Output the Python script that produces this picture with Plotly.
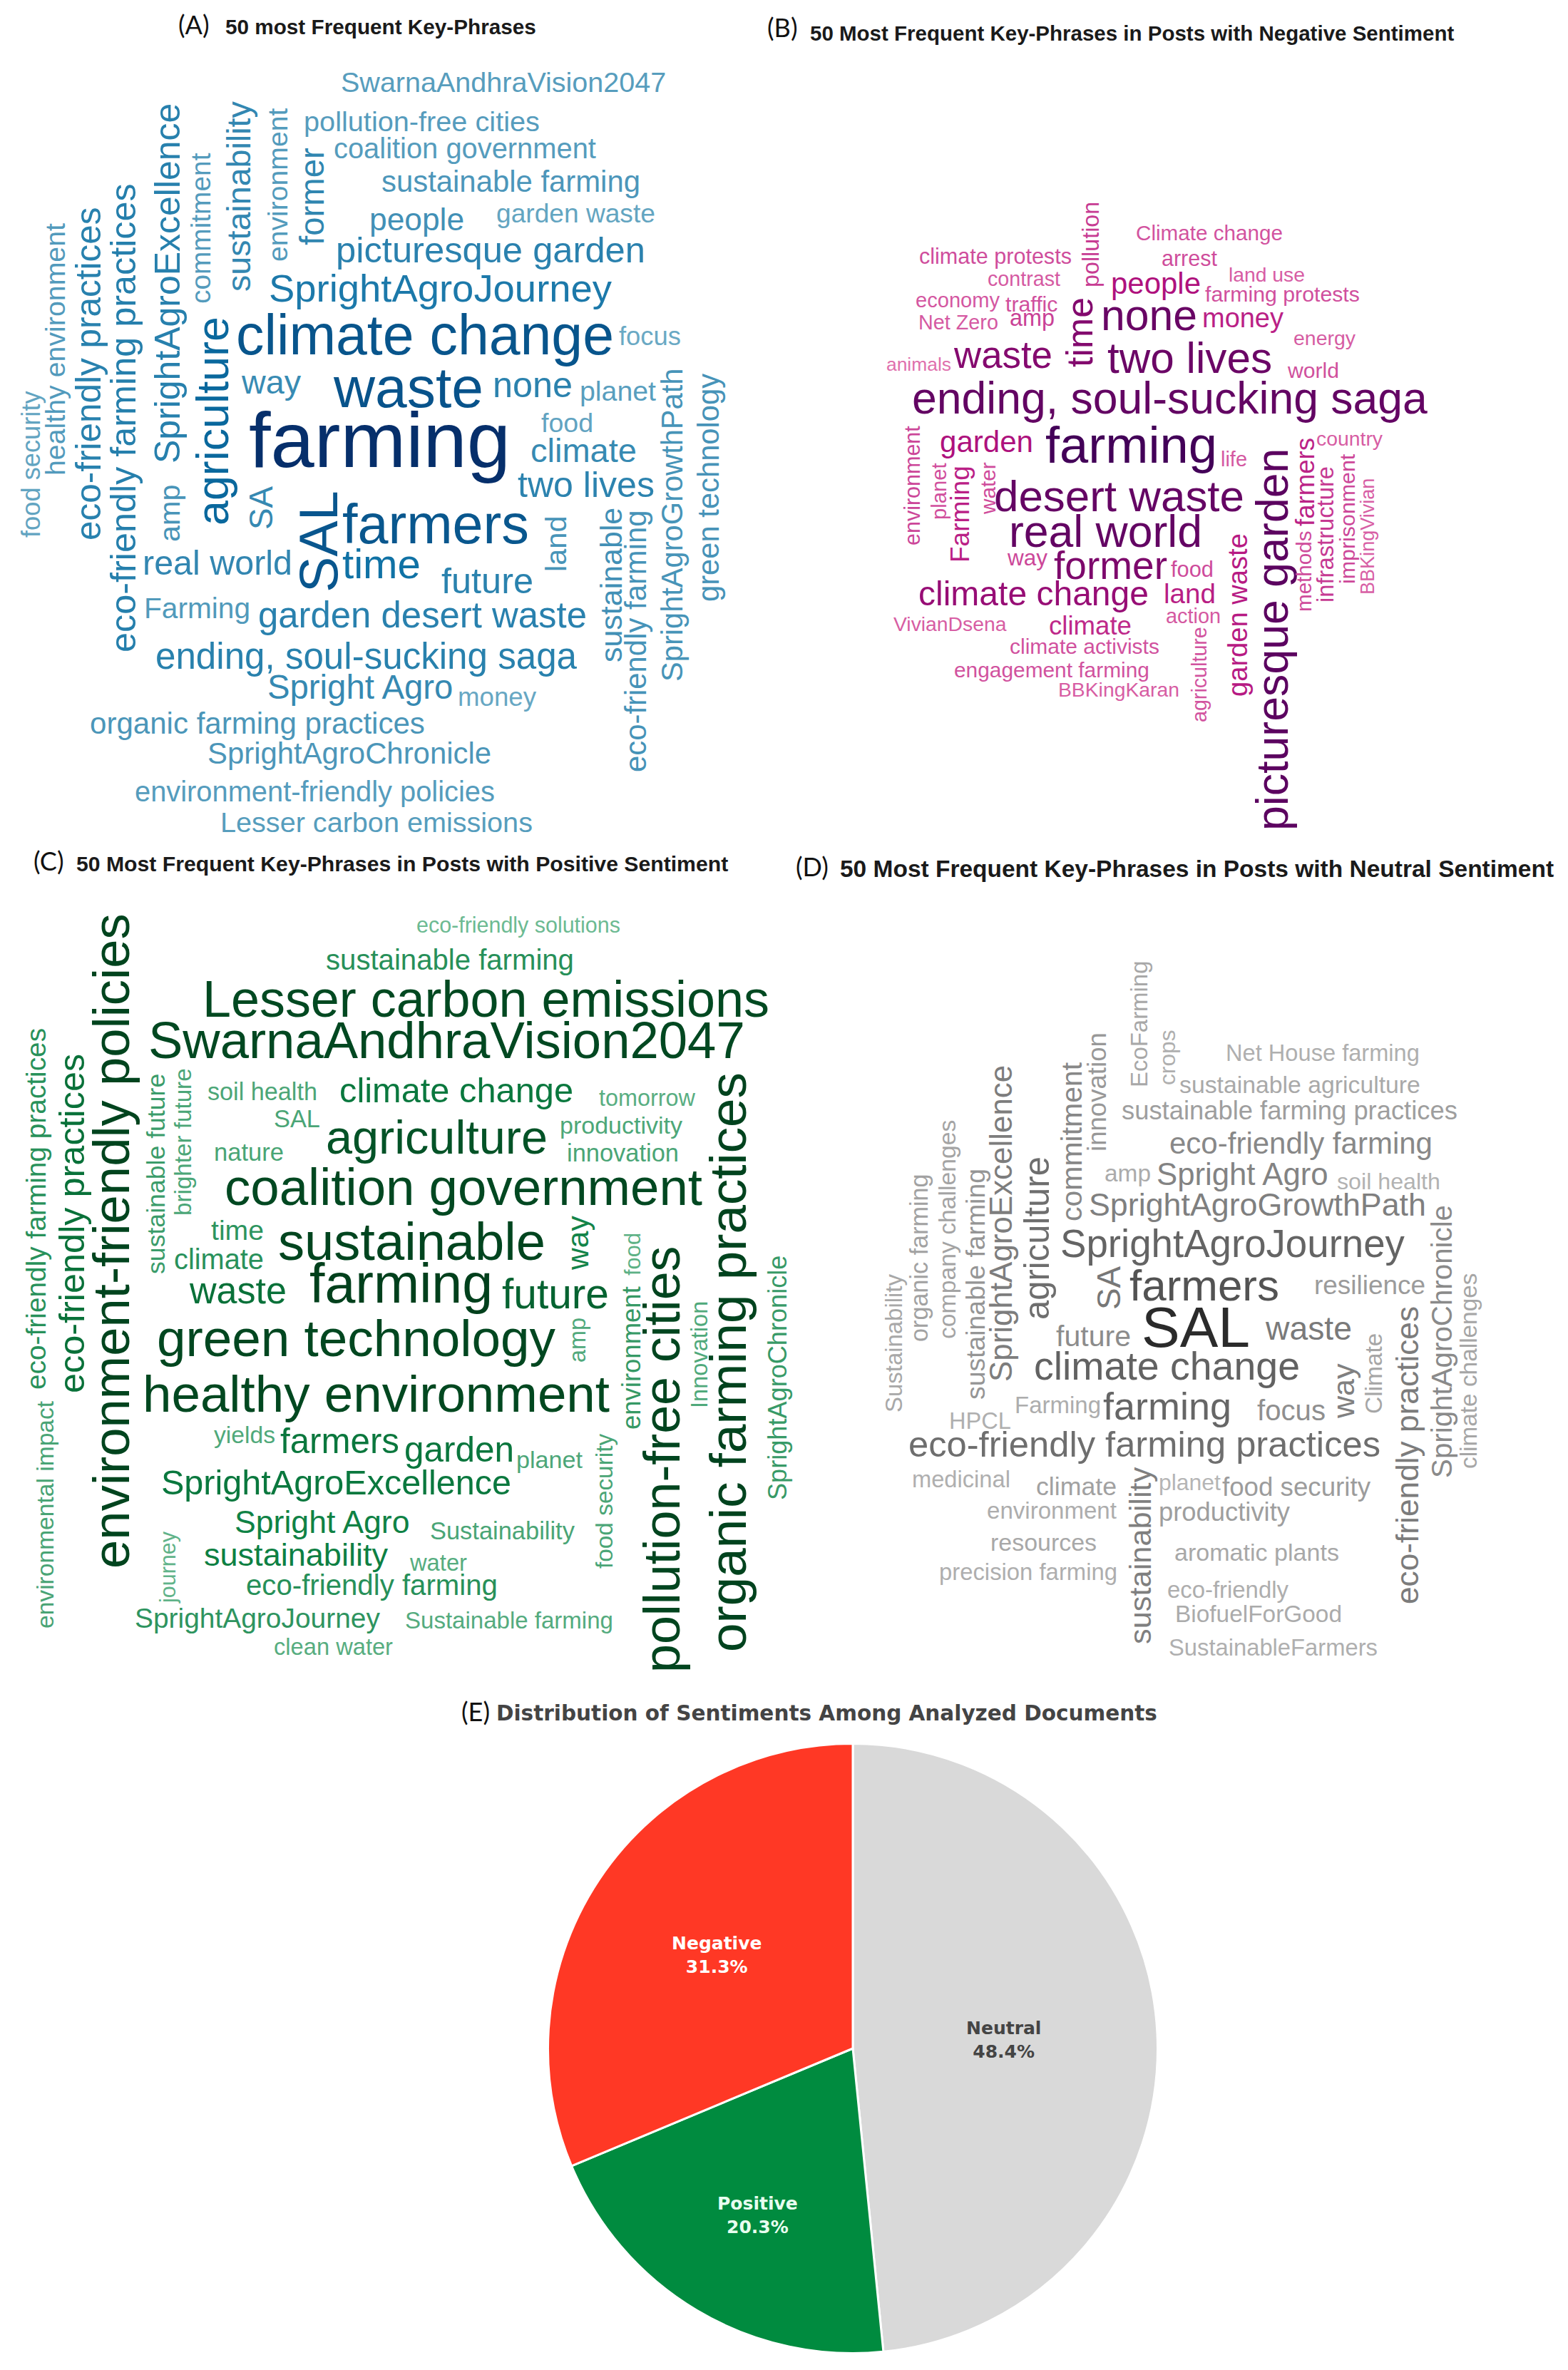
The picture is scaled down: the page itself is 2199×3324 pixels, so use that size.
import plotly.graph_objects as go

W = 2199
H = 3324

# ---- sentiment pie ----
sent_labels = ['Neutral', 'Positive', 'Negative']
sent_values = [48.4, 20.3, 31.3]
sent_colors = ['#d9d9d9', '#008b3f', '#ff3825']
sent_text_colors = ['#444444', '#e8fff0', '#ffffff']
sent_text_x = [1407, 1062, 1005]
sent_text_y = [2861, 3107, 2742]

# ---- panel A ----
flat_a = ['SwarnaAndhraVision2047', 'pollution-free cities', 'coalition government', 'sustainable farming',
          'people', 'garden waste', 'picturesque garden', 'SprightAgroJourney', 'climate change', 'focus',
          'way', 'waste', 'none', 'planet', 'food', 'farming', 'climate', 'two lives', 'farmers', 'real world',
          'time', 'future', 'Farming', 'garden desert waste', 'ending, soul-sucking saga', 'Spright Agro', 'money',
          'organic farming practices', 'SprightAgroChronicle', 'environment-friendly policies',
          'Lesser carbon emissions']
flat_a_x = [706, 591, 652, 716, 584, 807, 688, 618, 596, 911, 380, 572, 747, 866, 795, 532, 818, 822, 611, 305,
            535, 683, 276, 592, 514, 505, 697, 361, 490, 441, 528]
flat_a_y = [115, 170, 208, 254, 307, 299, 351, 405, 470, 471, 536, 543, 540, 548, 593, 616, 631, 680, 735, 789,
            791, 815, 853, 862, 921, 964, 977, 1015, 1056, 1110, 1153]
flat_a_len = [457, 331, 368, 363, 133, 223, 434, 481, 530, 87, 83, 210, 112, 107, 73, 367, 149, 192, 262, 210,
              110, 129, 149, 461, 591, 263, 110, 470, 398, 505, 438]
up_a = ['sustainability', 'environment', 'former', 'commitment', 'SprightAgroExcellence',
        'eco-friendly farming practices', 'eco-friendly practices', 'healthy environment', 'food security',
        'agriculture', 'amp', 'SA', 'SAL', 'land', 'sustainable', 'eco-friendly farming',
        'SprightAgroGrowthPath', 'green technology']
up_a_x = [335, 389, 438, 282, 235, 172, 124, 77, 43, 298, 238, 366, 447, 779, 857, 891, 943, 993]
up_a_y = [276, 260, 276, 320, 398, 586, 524, 490, 651, 591, 720, 712, 760, 763, 821, 899, 737, 684]
up_a_len = [275, 222, 141, 218, 521, 678, 482, 365, 212, 302, 83, 63, 147, 81, 224, 379, 453, 330]

# ---- panel B ----
flat_b = ['Climate change', 'climate protests', 'arrest', 'contrast', 'land use', 'people', 'farming protests',
          'economy', 'traffic', 'Net Zero', 'amp', 'none', 'money', 'energy', 'waste', 'animals', 'two lives',
          'world', 'ending, soul-sucking saga', 'garden', 'farming', 'country', 'life', 'desert waste',
          'real world', 'way', 'former', 'food', 'climate change', 'land', 'VivianDsena', 'action', 'climate',
          'climate activists', 'engagement farming', 'BBKingKaran']
flat_b_x = [1696, 1396, 1668, 1436, 1776, 1621, 1798, 1343, 1446, 1344, 1447, 1611, 1743, 1858, 1406, 1288, 1668,
            1841, 1640, 1383, 1586, 1893, 1730, 1569, 1550, 1440, 1557, 1672, 1449, 1668, 1332, 1673, 1529,
            1521, 1475, 1569]
flat_b_y = [327, 359, 362, 391, 385, 397, 412, 421, 426, 452, 446, 442, 446, 474, 497, 511, 502, 519, 558, 619,
            624, 615, 644, 695, 745, 782, 793, 799, 832, 832, 875, 864, 877, 907, 939, 967]
flat_b_len = [206, 214, 78, 102, 107, 126, 217, 118, 74, 112, 63, 135, 114, 87, 138, 91, 231, 72, 723, 131, 241,
              93, 37, 351, 271, 56, 159, 60, 323, 73, 159, 77, 116, 210, 274, 170]
up_b = ['pollution', 'time', 'environment', 'planet', 'Farming', 'water', 'picturesque garden', 'farmers',
        'methods', 'infrastructure', 'imprisonment', 'BBKingVivian', 'garden waste', 'agriculture']
up_b_x = [1530, 1514, 1279, 1317, 1346, 1385, 1784, 1831, 1829, 1858, 1889, 1918, 1735, 1682]
up_b_y = [343, 466, 681, 689, 721, 685, 897, 676, 802, 750, 728, 753, 863, 946]
up_b_len = [124, 101, 173, 82, 140, 75, 553, 128, 117, 197, 188, 169, 236, 138]

# ---- panel C ----
flat_c = ['eco-friendly solutions', 'sustainable farming', 'Lesser carbon emissions', 'SwarnaAndhraVision2047',
          'soil health', 'climate change', 'tomorrow', 'SAL', 'agriculture', 'productivity', 'innovation', 'nature',
          'coalition government', 'time', 'sustainable', 'climate', 'waste', 'farming', 'future',
          'green technology', 'healthy environment', 'yields', 'farmers', 'garden', 'planet',
          'SprightAgroExcellence', 'Spright Agro', 'Sustainability', 'sustainability', 'water',
          'eco-friendly farming', 'SprightAgroJourney', 'Sustainable farming', 'clean water']
flat_c_x = [727, 631, 681, 626, 368, 640, 908, 416, 612, 871, 873, 349, 650, 333, 577, 307, 333, 562, 779,
            500, 527, 343, 476, 644, 770, 471, 452, 705, 415, 614, 521, 361, 714, 467]
flat_c_y = [1297, 1346, 1401, 1458, 1531, 1529, 1540, 1569, 1595, 1578, 1617, 1616, 1664, 1725, 1741, 1766, 1810,
            1800, 1814, 1877, 1955, 2012, 2020, 2033, 2047, 2079, 2134, 2147, 2180, 2191, 2223, 2269, 2272, 2309]
flat_c_len = [286, 348, 795, 838, 154, 328, 135, 65, 311, 172, 157, 98, 670, 74, 375, 126, 136, 257, 150,
              559, 655, 86, 167, 154, 93, 491, 248, 203, 258, 80, 353, 344, 292, 167]
up_c = ['environment-friendly policies', 'eco-friendly farming practices', 'eco-friendly practices',
        'sustainable future', 'brighter future', 'way', 'environment', 'food', 'pollution-free cities',
        'organic farming practices', 'Innovation', 'amp', 'food security', 'environmental impact', 'journey',
        'SprightAgroChronicle']
up_c_x = [155, 50, 100, 219, 257, 810, 885, 887, 928, 1021, 981, 810, 847, 63, 235, 1090]
up_c_y = [1741, 1696, 1716, 1647, 1602, 1744, 1905, 1759, 2047, 1911, 1900, 1880, 2106, 2124, 2198, 1933]
up_c_len = [947, 523, 491, 290, 213, 78, 207, 62, 617, 838, 155, 65, 195, 329, 103, 354]

# ---- panel D ----
flat_d = ['Net House farming', 'sustainable agriculture', 'sustainable farming practices', 'eco-friendly farming',
          'amp', 'Spright Agro', 'soil health', 'SprightAgroGrowthPath', 'SprightAgroJourney', 'farmers',
          'resilience', 'SAL', 'waste', 'future', 'climate change', 'Farming', 'farming', 'focus', 'HPCL',
          'eco-friendly farming practices', 'medicinal', 'climate', 'planet', 'food security', 'environment',
          'productivity', 'resources', 'aromatic plants', 'precision farming', 'eco-friendly', 'BiofuelForGood',
          'SustainableFarmers']
flat_d_x = [1855, 1823, 1808, 1825, 1581, 1742, 1947, 1763, 1729, 1689, 1921, 1677, 1835, 1533, 1636, 1483, 1637,
            1811, 1374, 1605, 1348, 1509, 1668, 1818, 1475, 1717, 1463, 1762, 1442, 1722, 1765, 1785]
flat_d_y = [1477, 1521, 1557, 1603, 1645, 1647, 1657, 1689, 1744, 1802, 1802, 1861, 1863, 1874, 1916, 1970, 1972,
            1979, 1992, 2025, 2074, 2085, 2079, 2085, 2118, 2120, 2163, 2177, 2204, 2229, 2263, 2310]
flat_d_len = [272, 338, 471, 369, 65, 243, 145, 473, 483, 210, 156, 152, 121, 105, 373, 121, 180, 96, 87, 662,
              138, 113, 87, 208, 182, 184, 149, 231, 250, 170, 234, 293]
up_d = ['EcoFarming', 'crops', 'innovation', 'commitment', 'SprightAgroExcellence', 'agriculture',
        'company challenges', 'organic farming', 'sustainable farming', 'Sustainability', 'SA',
        'SprightAgroChronicle', 'climate challenges', 'way', 'Climate', 'eco-friendly practices', 'sustainability']
up_d_x = [1598, 1637, 1538, 1503, 1403, 1454, 1328, 1289, 1368, 1254, 1556, 2022, 2059, 1884, 1926, 1973, 1599]
up_d_y = [1437, 1483, 1532, 1601, 1716, 1737, 1725, 1764, 1801, 1884, 1806, 1881, 1923, 1951, 1927, 2041, 2182]
up_d_len = [183, 80, 172, 230, 458, 236, 317, 243, 334, 200, 63, 395, 283, 79, 117, 431, 256]

# ---- titles ----
titles = ['50 most Frequent Key-Phrases', '50 Most Frequent Key-Phrases in Posts with Negative Sentiment',
          '50 Most Frequent Key-Phrases in Posts with Positive Sentiment',
          '50 Most Frequent Key-Phrases in Posts with Neutral Sentiment']
title_x = [534, 1587, 564, 1678]
title_y = [37, 46, 1211, 1218]
title_len = [440, 907, 914, 1004]
panel_labels = ['(A)', '(B)', '(C)', '(D)', '(E)']
panel_x = [272, 1097, 68, 1139, 667]
panel_y = [34, 38, 1207, 1215, 2400]

# Arial advance widths, used to turn a measured word length into a font size
ARIAL = {' ': 278, ',': 278, '-': 333, 'A': 667, 'B': 667, 'C': 722, 'E': 667, 'F': 611, 'G': 778, 'H': 722,
         'I': 278, 'J': 500, 'K': 667, 'L': 556, 'N': 722, 'P': 667, 'S': 667, 'V': 667, 'Z': 611, 'D': 722,
         'M': 833, 'f': 278, 'i': 222, 'j': 222, 'l': 222, 'm': 833, 'r': 333, 't': 278, 'w': 722,
         'c': 500, 'k': 500, 's': 500, 'v': 500, 'x': 500, 'y': 500, 'z': 500}


def em_width(text):
    return sum(ARIAL.get(ch, 556) for ch in text) / 1000


def hex_rgb(c):
    return [int(c[i:i + 2], 16) for i in (1, 3, 5)]


def ramp_color(t, stops):
    light, mid, dark = [hex_rgb(s) for s in stops]
    if t < 0.4:
        a, b, u = light, mid, t / 0.4
    else:
        a, b, u = mid, dark, (t - 0.4) / 0.6
    return 'rgb(%d,%d,%d)' % tuple(a[i] + (b[i] - a[i]) * u for i in range(3))


annotations = []


def px_note(text, x, y, size, color, family='Liberation Sans', angle=0):
    annotations.append(dict(text=text, x=x / W, y=1 - y / H, xref='paper', yref='paper', showarrow=False,
                            xanchor='center', yanchor='middle', textangle=angle,
                            font=dict(family=family, size=size, color=color)))


def add_cloud(flat, fx, fy, flen, up, ux, uy, ulen, stops):
    sizes_f = [l / em_width(w) for w, l in zip(flat, flen)]
    sizes_u = [l / em_width(w) for w, l in zip(up, ulen)]
    lo = min(sizes_f + sizes_u)
    hi = max(sizes_f + sizes_u)
    for w, x, y, s in zip(flat, fx, fy, sizes_f):
        px_note(w, x, y, s, ramp_color(((s - lo) / (hi - lo)) ** 0.8, stops))
    # the source clouds were stretched a little, upright words are thinner across than their length says
    for w, x, y, s in zip(up, ux, uy, sizes_u):
        px_note(w, x, y, s * 0.97, ramp_color(((s - lo) / (hi - lo)) ** 0.8, stops), angle=-90)


add_cloud(flat_a, flat_a_x, flat_a_y, flat_a_len, up_a, up_a_x, up_a_y, up_a_len, ['#6aa9c4', '#0b6fa4', '#062f6b'])
add_cloud(flat_b, flat_b_x, flat_b_y, flat_b_len, up_b, up_b_x, up_b_y, up_b_len, ['#e070ad', '#b3127f', '#430058'])
add_cloud(flat_c, flat_c_x, flat_c_y, flat_c_len, up_c, up_c_x, up_c_y, up_c_len, ['#6cba92', '#0c8043', '#00401c'])
add_cloud(flat_d, flat_d_x, flat_d_y, flat_d_len, up_d, up_d_x, up_d_y, up_d_len, ['#b5b5b5', '#777777', '#2b2b2b'])

for t, x, y, l in zip(titles, title_x, title_y, title_len):
    px_note('<b>%s</b>' % t, x, y, l / (em_width(t) * 1.07), '#1a1a1a')
for t, x, y in zip(panel_labels, panel_x, panel_y):
    px_note(t, x, y, 36, '#111111', family='Lato')
px_note('<b>Distribution of Sentiments Among Analyzed Documents</b>', 1159, 2403, 29.5, '#444444',
        family='DejaVu Sans')
for lab, val, col, x, y in zip(sent_labels, sent_values, sent_text_colors, sent_text_x, sent_text_y):
    px_note('<b>%s<br>%.1f%%</b>' % (lab, val), x, y, 25, col, family='DejaVu Sans')

# pie is 855 px across, centred where the reference has it
pie_cx, pie_cy, pie_r = 1196, 2873, 427.5
fig = go.Figure(go.Pie(labels=sent_labels, values=sent_values, sort=False, direction='clockwise', rotation=0,
                       marker=dict(colors=sent_colors, line=dict(color='white', width=3)),
                       textinfo='none', hoverinfo='label+percent',
                       domain=dict(x=[(pie_cx - pie_r) / W, (pie_cx + pie_r) / W],
                                   y=[1 - (pie_cy + pie_r) / H, 1 - (pie_cy - pie_r) / H])))
fig.update_layout(width=W, height=H, margin=dict(l=0, r=0, t=0, b=0), showlegend=False,
                  paper_bgcolor='white', plot_bgcolor='white', annotations=annotations)

fig.write_html("out.html", post_script="document.body.style.margin='0';",
               config=dict(displayModeBar=False))
